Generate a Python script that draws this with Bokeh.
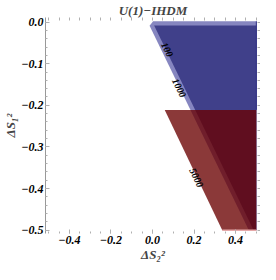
from bokeh.plotting import figure
from bokeh.models import LinearAxis, FixedTicker
from bokeh.core.properties import value
from bokeh.embed import file_html
from bokeh.resources import INLINE

# ---- texts ----
title_text = "U(1)\u2212IHDM"
x_label = "\u0394S\u2082\u00b2"
y_label = "\u0394S\u2081\u00b2"
x_ticks = [-0.4, -0.2, 0.0, 0.2, 0.4]
x_tick_labels = ["\u22120.4", "\u22120.2", "0.0", "0.2", "0.4"]
y_ticks = [0.0, -0.1, -0.2, -0.3, -0.4, -0.5]
y_tick_labels = ["0.0", "\u22120.1", "\u22120.2", "\u22120.3", "\u22120.4", "\u22120.5"]
x_minor = [round(i * 0.05 - 0.5, 2) for i in range(21)]
y_minor = [round(-i * 0.02, 2) for i in range(26)]

# ---- regions (data coordinates) ----
band_x = [-0.014, 0.003, 0.5, 0.5, 0.464]      # contour 100 region (light blue)
band_y = [-0.009, 0.002, 0.002, -0.5, -0.5]
blue_x = [0.008, 0.5, 0.5, 0.487]              # contour 1000 region (dark blue)
blue_y = [-0.008, -0.008, -0.5, -0.5]
red_x = [0.059, 0.5, 0.5, 0.336]               # contour 5000 region (red)
red_y = [-0.211, -0.211, -0.5, -0.5]

label_text = ["100", "1000", "5000"]
label_x = [0.071, 0.129, 0.212]
label_y = [-0.066, -0.158, -0.374]

FONT = "Liberation Serif"

p = figure(width=260, height=264, x_range=(-0.515, 0.52), y_range=(-0.508, 0.011),
           output_backend="svg", toolbar_location=None, title=title_text,
           min_border_left=0, min_border_right=0, min_border_top=0, min_border_bottom=0)

p.title.text_font = FONT
p.title.text_font_style = "bold italic"
p.title.text_font_size = "13px"
p.title.align = "center"
p.title.offset = 0
p.title.standoff = 0

p.patch(band_x, band_y, fill_color="#8686c0", line_color=None)
p.patch(blue_x, blue_y, fill_color="#40408a", line_color=None)
p.line([0.5, 0.5], [0.002, -0.211], line_color="#2a2a80", line_width=1)
p.patch(red_x, red_y, fill_color="#690000", fill_alpha=0.775, line_color=None)
p.line([red_x[3], red_x[2]], [red_y[3], red_y[2]], line_color="#e6a8a8", line_width=1.5)

p.text(label_x, label_y, text=label_text, angle=-1.11, text_font=value(FONT),
       text_font_style="bold italic", text_font_size="10px", text_color="black",
       text_align="center", text_baseline="middle")

p.grid.visible = False
p.outline_line_color = None

tick_color = "#b0b0b0"
for ax in (p.xaxis[0], p.yaxis[0]):
    ax.major_label_text_font = FONT
    ax.major_label_text_font_style = "bold italic"
    ax.major_label_text_font_size = "12px"
    ax.major_label_text_color = "black"
    ax.axis_label_text_font = FONT
    ax.axis_label_text_font_style = "bold italic"
    ax.axis_label_text_font_size = "13px"
    ax.major_tick_in = 4
    ax.major_tick_out = 0
    ax.minor_tick_in = 2
    ax.minor_tick_out = 0
    ax.major_tick_line_color = tick_color
    ax.minor_tick_line_color = tick_color
    ax.major_label_standoff = 2
    ax.axis_label_standoff = 0

p.xaxis[0].ticker = FixedTicker(ticks=x_ticks, minor_ticks=x_minor)
p.xaxis[0].major_label_overrides = {t: l for t, l in zip(x_ticks, x_tick_labels)}
p.xaxis[0].axis_label = x_label
p.xaxis[0].axis_line_color = None

p.yaxis[0].ticker = FixedTicker(ticks=y_ticks, minor_ticks=y_minor)
p.yaxis[0].major_label_overrides = {t: l for t, l in zip(y_ticks, y_tick_labels)}
p.yaxis[0].axis_label = y_label
p.yaxis[0].axis_line_color = "#999999"

# top / right frame ticks only (no labels)
for loc, minor in (("above", x_minor), ("right", y_minor)):
    ax = LinearAxis(ticker=FixedTicker(ticks=[], minor_ticks=minor),
                    axis_line_color=None, major_tick_line_color=None,
                    major_label_standoff=0, axis_label_standoff=0,
                    major_tick_in=0, major_tick_out=0,
                    minor_tick_in=3, minor_tick_out=0, minor_tick_line_color=tick_color)
    p.add_layout(ax, loc)

open("out.html", "w").write(file_html(p, INLINE))
